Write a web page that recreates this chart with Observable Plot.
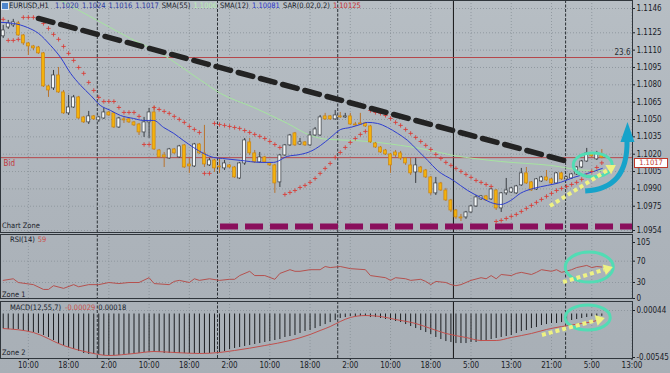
<!DOCTYPE html>
<html><head><meta charset="utf-8">
<script src="https://cdn.jsdelivr.net/npm/d3@7"></script>
<script src="https://cdn.jsdelivr.net/npm/@observablehq/plot@0.6"></script>
<style>
html,body{margin:0;padding:0;background:#adb4bb;}
#wrap{position:relative;width:670px;height:373px;overflow:hidden;background:linear-gradient(180deg,#b7bec4 0%,#adb4bb 55%,#a8afb6 100%);font-family:"Liberation Sans Narrow","DejaVu Sans Condensed","Liberation Sans",Arial,sans-serif;}
#wrap svg{position:absolute;left:0;overflow:visible;}
.lbl{position:absolute;font-size:7.5px;white-space:nowrap;line-height:1;color:#1a2129;}
</style></head><body><div id="wrap"></div>
<script>
// ---------------- DATA ----------------
const open = [
1.11219,1.11296,1.11314,1.11331,1.11227,1.11158,1.11132,1.11123,1.11072,1.10786,
1.10769,1.10881,1.10734,1.10553,1.10604,1.10691,1.10518,1.10475,1.10527,1.10492,
1.10509,1.10561,1.10553,1.10431,1.10501,1.10501,1.10475,1.10457,1.10388,1.10475,
1.10561,1.10232,1.10189,1.10163,1.10241,1.10172,1.10276,1.10111,1.10094,1.10284,
1.10207,1.10103,1.10146,1.10094,1.10077,1.10103,1.10085,1.09990,1.10120,1.10302,
1.10207,1.10129,1.10172,1.10120,1.10103,1.09956,1.10189,1.10276,1.10380,1.10284,
1.10302,1.10276,1.10362,1.10362,1.10527,1.10527,1.10501,1.10527,1.10518,1.10527,
1.10457,1.10466,1.10466,1.10440,1.10293,1.10258,1.10232,1.10198,1.10215,1.10207,
1.10163,1.10103,1.10042,1.10085,1.10059,1.09999,1.09861,1.09947,1.09886,1.09800,
1.09713,1.09653,1.09653,1.09696,1.09748,1.09809,1.09835,1.09809,1.09886,1.09731,
1.09861,1.09869,1.09861,1.09930,1.10034,1.09956,1.09895,1.09964,1.09999,1.09982,
1.09947,1.10034,1.09982,1.09990,1.10025,1.10085,1.10137,1.10207,1.10155,1.10200];
const high = [
1.11314,1.11357,1.11366,1.11348,1.11236,1.11167,1.11141,1.11132,1.11080,1.10795,
1.10924,1.10950,1.10751,1.10708,1.10708,1.10700,1.10527,1.10570,1.10535,1.10527,
1.10596,1.10570,1.10561,1.10518,1.10527,1.10509,1.10483,1.10466,1.10518,1.10596,
1.10613,1.10241,1.10215,1.10250,1.10250,1.10276,1.10284,1.10163,1.10293,1.10293,
1.10449,1.10163,1.10155,1.10172,1.10146,1.10111,1.10094,1.10129,1.10336,1.10336,
1.10232,1.10215,1.10181,1.10129,1.10111,1.10198,1.10284,1.10371,1.10388,1.10336,
1.10310,1.10397,1.10431,1.10535,1.10553,1.10535,1.10578,1.10561,1.10553,1.10553,
1.10475,1.10553,1.10475,1.10449,1.10302,1.10267,1.10241,1.10207,1.10232,1.10224,
1.10172,1.10163,1.10163,1.10094,1.10068,1.10008,1.09999,1.09956,1.09904,1.09809,
1.09722,1.09679,1.09705,1.09757,1.09843,1.09843,1.09843,1.09904,1.09895,1.09869,
1.09990,1.09912,1.09930,1.10077,1.10085,1.09964,1.09990,1.10008,1.10059,1.09990,
1.10042,1.10042,1.10008,1.10034,1.10094,1.10146,1.10250,1.10215,1.10224,1.10240];
const low = [
1.11201,1.11279,1.11296,1.11219,1.11141,1.11054,1.11097,1.11063,1.10777,1.10691,
1.10751,1.10726,1.10544,1.10535,1.10596,1.10501,1.10466,1.10457,1.10492,1.10475,
1.10501,1.10527,1.10423,1.10423,1.10466,1.10466,1.10440,1.10362,1.10345,1.10336,
1.10232,1.10163,1.10085,1.10155,1.10198,1.10163,1.10077,1.10034,1.10085,1.10198,
1.10085,1.10094,1.10042,1.10034,1.10059,1.10077,1.09990,1.09982,1.10103,1.10189,
1.10120,1.10120,1.10120,1.10094,1.09861,1.09912,1.10181,1.10267,1.10267,1.10276,
1.10267,1.10267,1.10354,1.10354,1.10492,1.10492,1.10492,1.10509,1.10509,1.10449,
1.10440,1.10449,1.10431,1.10293,1.10250,1.10207,1.10189,1.10034,1.10172,1.10146,
1.10103,1.10016,1.09947,1.10034,1.09990,1.09843,1.09843,1.09878,1.09791,1.09696,
1.09636,1.09618,1.09636,1.09688,1.09739,1.09800,1.09791,1.09800,1.09713,1.09696,
1.09843,1.09861,1.09852,1.09921,1.09938,1.09878,1.09886,1.09956,1.09964,1.09938,
1.09938,1.09973,1.09973,1.09982,1.10016,1.10077,1.10129,1.10172,1.10146,1.10160];
const close = [
1.11270,1.11331,1.11340,1.11227,1.11158,1.11132,1.11115,1.11072,1.10786,1.10751,
1.10881,1.10734,1.10553,1.10604,1.10691,1.10509,1.10475,1.10527,1.10501,1.10518,
1.10561,1.10535,1.10431,1.10509,1.10492,1.10475,1.10449,1.10388,1.10475,1.10561,
1.10241,1.10172,1.10172,1.10241,1.10207,1.10267,1.10085,1.10094,1.10284,1.10207,
1.10111,1.10146,1.10077,1.10085,1.10120,1.10085,1.09999,1.10120,1.10319,1.10207,
1.10129,1.10172,1.10129,1.10103,1.09947,1.10189,1.10276,1.10362,1.10276,1.10302,
1.10276,1.10362,1.10414,1.10518,1.10501,1.10501,1.10535,1.10518,1.10527,1.10457,
1.10449,1.10457,1.10440,1.10302,1.10258,1.10215,1.10198,1.10103,1.10189,1.10163,
1.10120,1.10034,1.10103,1.10042,1.09999,1.09861,1.09947,1.09886,1.09800,1.09713,
1.09653,1.09644,1.09696,1.09748,1.09826,1.09835,1.09800,1.09895,1.09731,1.09861,
1.09886,1.09904,1.09921,1.10034,1.09947,1.09886,1.09982,1.09999,1.09973,1.09947,
1.10034,1.09982,1.09999,1.10025,1.10085,1.10137,1.10207,1.10181,1.10207,1.10170];
const sar = [
1.11366,1.11184,1.11184,1.11193,1.11383,1.11383,1.11383,1.11374,1.11331,1.11288,
1.11236,1.11193,1.11132,1.11072,1.11011,1.10950,1.10899,1.10821,1.10751,1.10691,
1.10656,1.10656,1.10656,1.10604,1.10561,1.10561,1.10561,1.10527,1.10284,1.10284,
1.10604,1.10587,1.10570,1.10553,1.10527,1.10501,1.10475,1.10440,1.10414,1.10388,
1.10034,1.10034,1.10466,1.10457,1.10449,1.10440,1.10431,1.10423,1.10405,1.10388,
1.10371,1.10354,1.10336,1.10310,1.10284,1.10258,1.09852,1.09869,1.09886,1.09912,
1.09930,1.09956,1.09990,1.10034,1.10077,1.10120,1.10172,1.10215,1.10258,1.10302,
1.10336,1.10371,1.10397,1.10578,1.10561,1.10553,1.10535,1.10509,1.10475,1.10449,
1.10414,1.10380,1.10345,1.10310,1.10276,1.10241,1.10198,1.10163,1.10129,1.10103,
1.10077,1.10051,1.10025,1.09999,1.09973,1.09956,1.09938,1.09921,1.09618,1.09627,
1.09644,1.09662,1.09679,1.09705,1.09731,1.09757,1.09783,1.09809,1.09835,1.09861,
1.09886,1.09904,1.09921,1.09938,1.09956,1.09982,1.10016,1.10051,1.10085,1.10125];
const sma12Idx = [-0.5,2.0,4.8,7.0,9.4,11.4,13.4,15.4,17.4,19.3,21.3,23.3,25.9,27.9,29.9,31.9,33.9,35.8,37.8,39.8,41.8,43.6,47.2,51.2,53.7,56.5,59.1,61.1,63.1,65.1,67.1,69.0,71.0,72.4,74.4,76.4,78.4,80.4,82.4,84.4,86.3,89.5,92.3,94.9,97.5,98.9,100.9,102.8,105.4,108.2,110.8,113.4,116.2,119.1];
const sma12Val = [1.11340,1.11331,1.11296,1.11245,1.11141,1.11037,1.10899,1.10795,1.10708,1.10622,1.10579,1.10535,1.10509,1.10492,1.10492,1.10431,1.10380,1.10319,1.10259,1.10207,1.10172,1.10163,1.10146,1.10129,1.10129,1.10181,1.10198,1.10224,1.10276,1.10345,1.10414,1.10431,1.10457,1.10475,1.10466,1.10431,1.10380,1.10319,1.10233,1.10146,1.10060,1.09973,1.09887,1.09826,1.09774,1.09765,1.09800,1.09861,1.09904,1.09930,1.09956,1.09999,1.10034,1.10077];
const sma55Idx = [11.4,18.7,25.3,31.3,39.3,43.2,49.8,56.5,61.1,64.5,69.6,74.4,79.0,82.9,89.5,98.9,108.8,116.2,119.1];
const sma55Val = [1.11530,1.11357,1.11201,1.11072,1.10838,1.10726,1.10604,1.10466,1.10362,1.10328,1.10319,1.10302,1.10276,1.10250,1.10189,1.10137,1.10103,1.10060,1.10060];
const rsiIdx = [0,2,3,6,8,9,10,12,14,15,17,19,21,23,25,27,29,30,33,34,35,37,38,39,41,43,45,46,47,49,50,52,54,55,57,58,59,61,63,64,65,67,69,72,73,76,77,78,80,81,83,84,85,86,88,89,90,91,93,95,96,97,98,99,101,102,103,105,106,107,109,110,111,113,114,116,117,118,119];
const rsiVal = [34,37,30,26,17,17,24,19,26,22,26,26,30,28,30,30,39,28,26,32,34,30,37,34,37,34,36,36,43,51,43,43,36,47,54,51,51,54,54,60,58,60,56,54,43,39,34,39,37,34,36,32,26,32,30,26,24,26,34,39,37,43,37,45,43,47,49,45,49,54,51,54,49,54,58,62,58,60,59];
const macdHist = [
-0.00182,-0.00194,-0.00194,-0.00194,-0.00207,-0.00219,-0.00232,-0.00244,-0.00269,-0.00294,
-0.00332,-0.00370,-0.00395,-0.00420,-0.00445,-0.00470,-0.00495,-0.00507,-0.00507,-0.00507,
-0.00520,-0.00520,-0.00520,-0.00520,-0.00507,-0.00507,-0.00495,-0.00495,-0.00482,-0.00482,
-0.00482,-0.00482,-0.00495,-0.00495,-0.00495,-0.00495,-0.00495,-0.00495,-0.00495,-0.00495,
-0.00495,-0.00495,-0.00482,-0.00482,-0.00470,-0.00445,-0.00432,-0.00420,-0.00407,-0.00395,
-0.00382,-0.00370,-0.00357,-0.00345,-0.00332,-0.00320,-0.00294,-0.00282,-0.00269,-0.00244,
-0.00219,-0.00207,-0.00182,-0.00157,-0.00132,-0.00107,-0.00081,-0.00056,-0.00044,-0.00031,
-0.00031,-0.00031,-0.00031,-0.00044,-0.00044,-0.00056,-0.00069,-0.00081,-0.00094,-0.00107,
-0.00132,-0.00157,-0.00182,-0.00207,-0.00232,-0.00257,-0.00294,-0.00320,-0.00345,-0.00357,
-0.00370,-0.00370,-0.00370,-0.00357,-0.00357,-0.00345,-0.00332,-0.00320,-0.00307,-0.00294,
-0.00282,-0.00269,-0.00244,-0.00219,-0.00207,-0.00182,-0.00169,-0.00144,-0.00132,-0.00119,
-0.00119,-0.00107,-0.00094,-0.00081,-0.00069,-0.00056,-0.00044,-0.00031,-0.00031,-0.00029];
const signalIdx = [0,6,12,17,21,26,30,34,39,43,46,52,57,61,63,65,67,69,72,75,78,82,85,88,92,95,98,101,105,108,111,115,118,119];
const signalVal = [-0.00182,-0.00232,-0.00395,-0.00482,-0.00520,-0.00495,-0.00470,-0.00482,-0.00495,-0.00482,-0.00457,-0.00395,-0.00332,-0.00257,-0.00207,-0.00157,-0.00094,-0.00044,-0.00019,-0.00031,-0.00069,-0.00119,-0.00182,-0.00244,-0.00294,-0.00332,-0.00332,-0.00294,-0.00244,-0.00194,-0.00157,-0.00119,-0.00081,-0.00056];

const timeTickIdx = [5,13,21,29,37,45,53,61,69,77,85,93,101,109,117,125];
const timeTickLabels = ["10:00","18:00","2:00","10:00","18:00","2:00","10:00","18:00","2:00","10:00","18:00","5:00","13:00","21:00","5:00","13:00"];
const daySepIdx = [18.7,42.6,66.5,89.5,111.8];
const daySepSolid = [false,false,false,true,false];
const priceTicks = [1.1146,1.1125,1.1110,1.1095,1.1080,1.1065,1.1050,1.1035,1.1020,1.1005,1.0990,1.0975,1.0954];
const rsiTicks = [105,70,30,0];
const rsiGrid = [70,30];
const macdTicks = [0.00044,-0.00545];
const macdTickLabels = ["0.00044","-0.00545"];
const fibLevel = 1.11036, fibLabel = "23.6";
const bidPrice = 1.1017, bidLabel = "Bid";
const trendIdx = [7.0,111.4], trendVal = [1.11374,1.10146];
const supportIdx = [43.2,125.1], supportVal = 1.09575;

// annotations (data coordinates)
const ellipses = {main:[117.3,1.10103,19.5,12], rsi:[116.6,58,24,15], macd:[116.3,-0.0005,22.5,12.5]};
const yArrows = {main:[108.8,1.09748,121.9,1.10103], rsi:[111.4,30,121.3,58], macd:[107.2,-0.00269,119.7,-0.00056]};
const tealCurve = [[115.8,1.09878],[121.1,1.09886],[124.3,1.10016],[124.1,1.10319]];
const tealTip = [124.2,1.10475];

const mainLegend = [["EURUSD,H1",9,"#17202a"],["1.1020",55,"#2a36a0"],["1.1024",82,"#2a36a0"],["1.1016",108,"#2a36a0"],["1.1017",133,"#2a36a0"],["SMA(55)",160,"#17202a"],["1.1006",193,"#b9f0b3"],["SMA(12)",219,"#17202a"],["1.10081",252,"#2a36c8"],["SAR(0.02,0.2)",283,"#17202a"],["1.10125",330,"#c93030"]];
const rsiLegend = [["RSI(14)",10,"#17202a"],["59",36,"#c9504a"]];
const macdLegend = [["MACD(12,55,7)",10,"#17202a"],["-0.00029",65,"#c9504a"],["0.00018",97,"#17202a"]];

// ---------------- CHART ----------------
const wrap = document.getElementById("wrap");
const FONT = '"Liberation Sans Narrow","DejaVu Sans Condensed","Liberation Sans",Arial,sans-serif';
const style = {background:"transparent", fontFamily:FONT, fontSize:"8px", color:"#1a2027", overflow:"visible"};
const xOpt = {domain:[-0.54,125.1], range:[0,632]};

const candles = open.map((o,i)=>({i, o, h:high[i], l:low[i], c:close[i], up: close[i] > open[i]}));
const sarData = sar.map((v,i)=>({i,v}));
const sma12 = sma12Idx.map((x,k)=>({x, y:sma12Val[k]}));
const sma55 = sma55Idx.map((x,k)=>({x, y:sma55Val[k]}));
const rsi = rsiIdx.map((x,k)=>({x, y:rsiVal[k]}));
const macd = macdHist.map((v,i)=>({i,v}));
const signal = signalIdx.map((x,k)=>({x, y:signalVal[k]}));
const trend = trendIdx.map((x,k)=>({x, y:trendVal[k]}));

function vgrid(){
  return [
    Plot.ruleX(timeTickIdx, {stroke:"#8b939a", strokeOpacity:0.85, strokeDasharray:"1,2"}),
    Plot.ruleX(daySepIdx.filter((d,k)=>!daySepSolid[k]), {stroke:"#2c3136", strokeDasharray:"3,1.5"}),
    Plot.ruleX(daySepIdx.filter((d,k)=>daySepSolid[k]), {stroke:"#141414"})
  ];
}

const main = Plot.plot({
  width:670, height:234, marginTop:0, marginBottom:2, marginLeft:0, marginRight:38, style,
  x:{...xOpt, axis:null},
  y:{domain:[1.0954,1.1146], range:[230,8], axis:"right", ticks:priceTicks, tickFormat:d3.format(".4f"), tickSize:2, tickPadding:2, label:null},
  marks:[
    Plot.ruleY(priceTicks, {stroke:"#8b939a", strokeOpacity:0.85, strokeDasharray:"1,2"}),
    ...vgrid(),
    Plot.ruleY([fibLevel], {stroke:"#b5464a"}),
    Plot.ruleY([bidPrice], {stroke:"#b5464a"}),
    Plot.text([{t:fibLabel, y:fibLevel}], {y:"y", text:"t", frameAnchor:"right", textAnchor:"end", dx:-2, dy:-5, fill:"#2a2f35"}),
    Plot.text([{t:bidLabel, y:bidPrice}], {y:"y", text:"t", frameAnchor:"left", textAnchor:"start", dx:3, dy:6, fill:"#c0393b"}),
    Plot.line(sma55, {x:"x", y:"y", stroke:"#a6e4a0", strokeWidth:1, curve:"monotone-x", clip:true}),
    Plot.ruleY([{y:supportVal, x1:supportIdx[0], x2:supportIdx[1]}], {y:"y", x1:"x1", x2:"x2", stroke:"#8a0f5c", strokeWidth:6, strokeDasharray:"18,7"}),
    Plot.ruleX(candles, {x:"i", y1:"l", y2:"h", stroke:d=>d.up?"#3a3e43":"#b8742e", strokeWidth:1}),
    Plot.rect(candles, {x1:d=>d.i-0.3, x2:d=>d.i+0.3, y1:"o", y2:"c", fill:d=>d.up?"#f4f7f8":"#f4b20c", stroke:d=>d.up?"#3a3e43":"#c98515", strokeWidth:0.7}),
    Plot.line(sma12, {x:"x", y:"y", stroke:"#2d3dcf", strokeWidth:1, curve:"monotone-x", clip:true}),
    Plot.dot(sarData, {x:"i", y:"v", symbol:"plus", r:1.5, stroke:"#d8403a", strokeWidth:0.9}),
    Plot.line(trend, {x:"x", y:"y", stroke:"#232323", strokeWidth:5.5, strokeDasharray:"15,8", clip:true}),
    Plot.frame({stroke:"#30363c"})
  ]
});
main.style.top = "0px";
wrap.appendChild(main);

const rsiChart = Plot.plot({
  width:670, height:67, marginTop:1, marginBottom:2, marginLeft:0, marginRight:38, style,
  x:{...xOpt, axis:null},
  y:{domain:[0,105], range:[65,9], axis:"right", ticks:rsiTicks, tickFormat:d=>String(d), tickSize:2, tickPadding:2, label:null},
  marks:[
    Plot.ruleY(rsiGrid, {stroke:"#8b939a", strokeOpacity:0.85, strokeDasharray:"1,2"}),
    ...vgrid(),
    Plot.line(rsi, {x:"x", y:"y", stroke:"#b5514e", strokeWidth:1}),
    Plot.frame({stroke:"#30363c"})
  ]
});
rsiChart.style.top = "233px";
wrap.appendChild(rsiChart);

const macdChart = Plot.plot({
  width:670, height:74, marginTop:2, marginBottom:15, marginLeft:0, marginRight:38, style,
  x:{...xOpt, axis:"bottom", ticks:timeTickIdx, tickFormat:d=>timeTickLabels[timeTickIdx.indexOf(d)], tickSize:2, tickPadding:2, label:null},
  y:{domain:[-0.00545,0.00044], range:[58,11], axis:"right", ticks:macdTicks, tickFormat:d=>macdTickLabels[macdTicks.indexOf(d)], tickSize:2, tickPadding:2, label:null},
  marks:[
    Plot.ruleY([macdTicks[0]], {stroke:"#8b939a", strokeOpacity:0.85, strokeDasharray:"1,2"}),
    ...vgrid(),
    Plot.ruleX(macd, {x:"i", y1:0, y2:"v", stroke:"#1d1f22", strokeWidth:1}),
    Plot.line(signal, {x:"x", y:"y", stroke:"#c0504d", strokeWidth:1, curve:"monotone-x"}),
    Plot.frame({stroke:"#30363c"})
  ]
});
macdChart.style.top = "299px";
wrap.appendChild(macdChart);

// ---------------- ANNOTATIONS ----------------
function annot(chart, key){
  const sx = chart.scale("x"), sy = chart.scale("y");
  const X = v=>sx.apply(v), Y = v=>sy.apply(v);
  const g = d3.select(chart).append("g");
  const e = ellipses[key];
  g.append("ellipse").attr("cx",X(e[0])).attr("cy",Y(e[1])).attr("rx",e[2]).attr("ry",e[3])
    .attr("fill","none").attr("stroke","#52dcb4").attr("stroke-width",3);
  const a = yArrows[key];
  const x1=X(a[0]), y1=Y(a[1]), x2=X(a[2]), y2=Y(a[3]);
  const L=Math.hypot(x2-x1,y2-y1), ux=(x2-x1)/L, uy=(y2-y1)/L, hl=9, hw=5.5;
  const bx=x2-ux*hl, by=y2-uy*hl;
  g.append("line").attr("x1",x1).attr("y1",y1).attr("x2",bx).attr("y2",by)
    .attr("stroke","#eef283").attr("stroke-width",4).attr("stroke-dasharray","4,3");
  g.append("path").attr("d",`M${x2},${y2}L${bx-uy*hw},${by+ux*hw}L${bx+uy*hw},${by-ux*hw}Z`).attr("fill","#eef283");
  return {g,X,Y};
}
{
  const {g,X,Y} = annot(main,"main");
  const p = tealCurve.map(([i,v])=>[X(i),Y(v)]);
  g.append("path").attr("d",`M${p[0]}C${p[1]} ${p[2]} ${p[3]}`).attr("fill","none").attr("stroke","#17a3ca").attr("stroke-width",5);
  const tx=X(tealTip[0]), ty=Y(tealTip[1]), by=p[3][1]+2;
  g.append("path").attr("d",`M${tx},${ty}L${tx-7},${by}L${tx+7},${by}Z`).attr("fill","#17a3ca");
}
annot(rsiChart,"rsi");
annot(macdChart,"macd");

// ---------------- TEXT OVERLAYS ----------------
function label(text,left,top,color){
  const d=document.createElement("div"); d.className="lbl"; d.textContent=text;
  d.style.left=left+"px"; d.style.top=top+"px"; if(color) d.style.color=color; wrap.appendChild(d); return d;
}
// legend row: keep reference positions, but never let a piece overlap the previous one
function legendRow(items, top){
  let right = -Infinity;
  items.forEach(([t,x,c])=>{
    const d = label(t, x, top, c);
    const left = Math.max(x, right + 3);
    d.style.left = left + "px";
    right = left + d.getBoundingClientRect().width;
  });
}
const icon=document.createElement("div");
Object.assign(icon.style,{position:"absolute",left:"1px",top:"2px",width:"6px",height:"6px",background:"#4f86cc",border:"1px solid #dfe8f2"});
wrap.appendChild(icon);
legendRow(mainLegend, 2);
legendRow(rsiLegend, 236);
legendRow(macdLegend, 304);
label("Chart Zone",2,222);
label("Zone 1",2,291);
label("Zone 2",2,349);
const box=label(bidPrice.toFixed(4),634,main.scale("y").apply(bidPrice)+1,"#c0392b");
Object.assign(box.style,{width:"32px",height:"8px",lineHeight:"8px",textAlign:"center",background:"#ffffff",border:"1px solid #c0392b"});
</script></body></html>
